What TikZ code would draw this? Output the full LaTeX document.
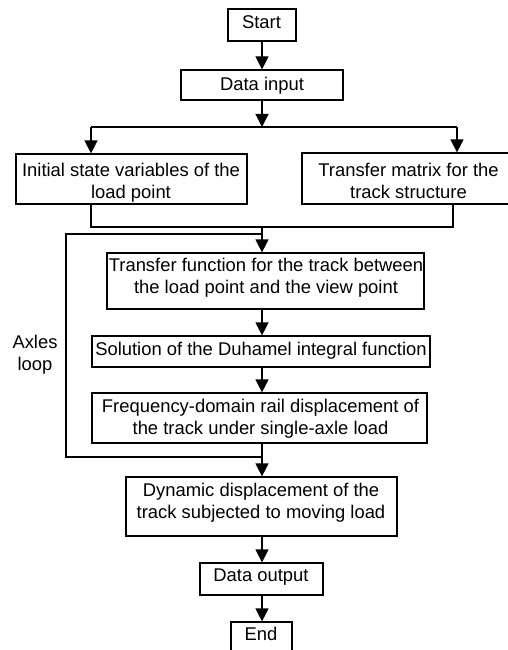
\documentclass[tikz,border=0pt]{standalone}
\usepackage{fontspec}
\setmainfont{Liberation Sans}
\usetikzlibrary{arrows.meta}
\begin{document}
\begin{tikzpicture}[x=1pt,y=-1pt,
  box/.style={draw,line width=1.2pt,inner sep=0pt,minimum width=#1},
  lbl/.style={anchor=north,inner sep=0pt,align=center,font=\fontsize{18.4}{21.7}\selectfont},
  ln/.style={line width=1.2pt},
  arr/.style={line width=1.2pt,-{Triangle[length=13pt,width=13pt]}}]
\useasboundingbox (0,0) rectangle (508,650);
% boxes
\node[box=68pt,minimum height=32pt] (start) at (262,25) {};
\node[box=162pt,minimum height=30pt] (input) at (262,85) {};
\node[box=231pt,minimum height=50pt] (init) at (131.5,179) {};
\node[box=213pt,minimum height=51pt] (tmat) at (408.5,178.5) {};
\node[box=317pt,minimum height=56pt] (tfun) at (265.5,281) {};
\node[box=338pt,minimum height=31pt] (sol) at (261,351.5) {};
\node[box=335pt,minimum height=50pt] (freq) at (259.5,418) {};
\node[box=271pt,minimum height=59pt] (dyn) at (261.5,506.5) {};
\node[box=123pt,minimum height=32pt] (out) at (261.5,579) {};
\node[box=61pt,minimum height=34pt] (end) at (261.5,639) {};
% texts
\node[lbl] (tstart) at (261.5,15) {Start};
\node[lbl] (tinput) at (262,77) {Data input};
\node[lbl] (tinit) at (131,163) {Initial state variables of the\\load point};
\node[lbl] (ttmat) at (408.5,163) {Transfer matrix for the\\track structure};
\node[lbl] (ttfun) at (266,258) {Transfer function for the track between\\the load point and the view point};
\node[lbl] (tsol) at (261,341.7) {Solution of the Duhamel integral function};
\node[lbl] (tfreq) at (260.5,399) {Frequency-domain rail displacement of\\the track under single-axle load};
\node[lbl] (tdyn) at (261,483) {Dynamic displacement of the\\track subjected to moving load};
\node[lbl] (tout) at (261,569) {Data output};
\node[lbl] (tend) at (261,627) {End};
\node[lbl] (taxles) at (35,335) {Axles\\loop};
% coordinates
\coordinate (mx) at (262,0);
\coordinate (split) at (262,127);
\coordinate (sl) at (91,127);
\coordinate (sr) at (457,127);
\coordinate (ml) at (91,227);
\coordinate (mr) at (453,227);
\coordinate (mc) at (262,227);
\coordinate (lt) at (66,234);
\coordinate (ltc) at (262,234);
\coordinate (lb) at (66,457);
\coordinate (lbc) at (262,457);
% connectors
\draw[arr] (start.south -| mx) -- (input.north -| mx);
\draw[arr] (input.south -| mx) -- (split);
\draw[ln] (sl) -- (sr);
\draw[arr] (sl) -- (sl |- init.north);
\draw[arr] (sr) -- (sr |- tmat.north);
\draw[ln] (ml |- init.south) -- (ml) -- (mr) -- (mr |- tmat.south);
\draw[arr] (mc) -- (tfun.north -| mx);
\draw[ln] (lbc) -- (lb) -- (lt) -- (ltc);
\draw[arr] (tfun.south -| mx) -- (sol.north -| mx);
\draw[arr] (sol.south -| mx) -- (freq.north -| mx);
\draw[arr] (freq.south -| mx) -- (dyn.north -| mx);
\draw[arr] (dyn.south -| mx) -- (out.north -| mx);
\draw[arr] (out.south -| mx) -- (end.north -| mx);
\end{tikzpicture}
\end{document}
